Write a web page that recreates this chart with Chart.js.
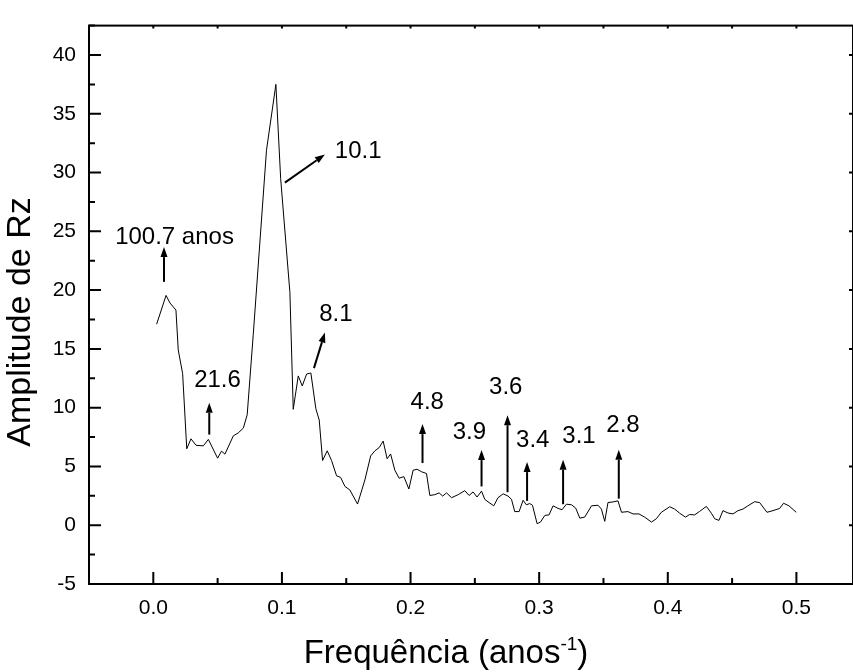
<!DOCTYPE html>
<html>
<head>
<meta charset="utf-8">
<title>Amplitude de Rz</title>
<script src="https://cdn.jsdelivr.net/npm/chart.js@4/dist/chart.umd.min.js"></script>
<style>
  html, body { margin: 0; padding: 0; background: #fff; }
  #wrap { position: relative; width: 853px; height: 672px; }
</style>
</head>
<body>
<div id="wrap"><canvas id="spectrum"></canvas></div>
<script>
// frequency (anos^-1) and amplitude of Rz
const freq = [
  0.0026, 0.0099, 0.013, 0.0176, 0.0194, 0.0228, 0.026, 0.0293, 0.0332, 0.0389,
  0.0428, 0.050, 0.053, 0.0557, 0.0622, 0.066, 0.070, 0.073, 0.0777, 0.088,
  0.0953, 0.099, 0.1062, 0.1088, 0.1127, 0.1158, 0.1192, 0.1225, 0.1264, 0.129,
  0.1316, 0.1352, 0.1386, 0.1425, 0.1456, 0.149, 0.1528, 0.1588, 0.1645, 0.169,
  0.1723, 0.1756, 0.1787, 0.1818, 0.1845, 0.1878, 0.1911, 0.1948, 0.1987, 0.202,
  0.2051, 0.2085, 0.2124, 0.215, 0.2189, 0.2222, 0.225, 0.228, 0.2319, 0.237,
  0.2422, 0.2455, 0.2486, 0.2517, 0.2552, 0.2577, 0.261, 0.2647, 0.268, 0.272,
  0.2758, 0.2785, 0.281, 0.2844, 0.2875, 0.290, 0.2927, 0.2948, 0.2984, 0.301,
  0.3044, 0.3077, 0.3108, 0.3147, 0.3178, 0.3212, 0.3251, 0.3284, 0.3316, 0.3354,
  0.3407, 0.3458, 0.3484, 0.351, 0.3535, 0.3574, 0.3613, 0.364, 0.369, 0.373,
  0.3776, 0.382, 0.3873, 0.3911, 0.395, 0.4015, 0.4054, 0.4093, 0.4137, 0.417,
  0.4209, 0.4248, 0.43, 0.4339, 0.4365, 0.4398, 0.4429, 0.4468, 0.4507, 0.4546,
  0.4584, 0.4623, 0.4675, 0.4714, 0.4771, 0.4818, 0.487, 0.490, 0.4942, 0.4999
];
const amp = [
  17.1, 19.55, 18.9, 18.3, 14.9, 12.9, 6.5, 7.35, 6.8, 6.75,
  7.3, 5.7, 6.3, 6.05, 7.6, 7.85, 8.26, 9.4, 16.2, 31.9,
  37.5, 29.5, 19.8, 9.86, 12.7, 11.85, 12.86, 12.95, 9.9, 8.95,
  5.5, 6.33, 5.5, 4.2, 4.07, 3.3, 3.0, 1.8, 3.85, 5.9,
  6.33, 6.6, 7.16, 5.65, 6.06, 4.68, 4.0, 4.13, 3.08, 4.68,
  4.76, 4.55, 4.4, 2.53, 2.6, 2.75, 2.48, 2.75, 2.34, 2.6,
  2.94, 2.53, 2.83, 2.4, 2.9, 2.2, 1.93, 1.65, 2.34, 2.67,
  2.48, 2.2, 1.16, 1.16, 2.12, 1.74, 1.84, 1.7, 0.13, 0.27,
  0.83, 0.88, 1.65, 1.43, 1.32, 1.79, 1.74, 1.46, 0.6, 0.69,
  1.65, 1.7, 1.37, 0.33, 1.93, 1.98, 2.07, 1.1, 1.16, 0.96,
  0.96, 0.69, 0.27, 0.55, 1.1, 1.57, 1.37, 1.02, 0.69, 0.91,
  0.88, 1.18, 1.6, 1.02, 0.55, 0.41, 1.24, 1.04, 0.96, 1.24,
  1.37, 1.65, 2.0, 1.93, 1.1, 1.24, 1.43, 1.87, 1.65, 1.1
];

const xTickValues = [0, 0.1, 0.2, 0.3, 0.4, 0.5];
const yTickValues = [-5, 0, 5, 10, 15, 20, 25, 30, 35, 40];

// period labels (anos) and their arrows, in data units
const peakLabels = ['100.7 anos', '21.6', '10.1', '8.1', '4.8', '3.9', '3.6', '3.4', '3.1', '2.8'];
const labelX = [0.0165, 0.0499, 0.1593, 0.142, 0.213, 0.2458, 0.274, 0.295, 0.331, 0.3652];
const labelY = [24.47, 12.34, 31.76, 17.96, 10.44, 7.88, 11.7, 7.2, 7.57, 8.5];
const arrowFromX = [0.0083, 0.0435, 0.1023, 0.1249, 0.2093, 0.2552, 0.2754, 0.2906, 0.3186, 0.3619];
const arrowFromY = [20.7, 7.71, 29.14, 13.36, 5.29, 3.3, 2.81, 2.07, 1.79, 2.26];
const arrowToX = [0.0083, 0.0435, 0.1334, 0.1334, 0.2093, 0.2552, 0.2754, 0.2906, 0.3186, 0.3619];
const arrowToY = [23.66, 10.41, 31.54, 16.39, 8.6, 6.39, 9.36, 5.37, 5.56, 6.41];

const FONT = '"Liberation Sans", Arial, Helvetica, sans-serif';

// Origin-style frame: box, inward ticks, arrows, labels and axis titles
const originFrame = {
  id: 'originFrame',
  afterDraw(chart) {
    const ctx = chart.ctx;
    const a = chart.chartArea;
    const xs = chart.scales.x;
    const ys = chart.scales.y;
    ctx.save();
    ctx.strokeStyle = '#000';
    ctx.fillStyle = '#000';
    ctx.lineWidth = 2;
    ctx.strokeRect(a.left, a.top, a.right - a.left, a.bottom - a.top);

    ctx.beginPath();
    for (let i = -1; i <= 11; i++) {
      const px = xs.getPixelForValue(i * 0.05);
      if (px < a.left - 0.5 || px > a.right + 0.5) continue;
      const len = (i % 2 === 0) ? 12 : 6;
      ctx.moveTo(px, a.bottom); ctx.lineTo(px, a.bottom - len);
      ctx.moveTo(px, a.top); ctx.lineTo(px, a.top + 3);
    }
    for (let j = -2; j <= 17; j++) {
      const py = ys.getPixelForValue(j * 2.5);
      if (py < a.top - 0.5 || py > a.bottom + 0.5) continue;
      const len = (j % 2 === 0) ? 12 : 6;
      ctx.moveTo(a.left, py); ctx.lineTo(a.left + len, py);
      if (j % 2 === 0) { ctx.moveTo(a.right, py); ctx.lineTo(a.right - 4, py); }
    }
    ctx.stroke();

    // arrows
    for (let k = 0; k < peakLabels.length; k++) {
      const x0 = xs.getPixelForValue(arrowFromX[k]);
      const y0 = ys.getPixelForValue(arrowFromY[k]);
      const x1 = xs.getPixelForValue(arrowToX[k]);
      const y1 = ys.getPixelForValue(arrowToY[k]);
      const ang = Math.atan2(y1 - y0, x1 - x0);
      const hl = 10, hw = 3.5;
      const bx = x1 - hl * Math.cos(ang), by = y1 - hl * Math.sin(ang);
      ctx.beginPath();
      ctx.moveTo(x0, y0); ctx.lineTo(bx, by);
      ctx.stroke();
      ctx.beginPath();
      ctx.moveTo(x1, y1);
      ctx.lineTo(bx + hw * Math.sin(ang), by - hw * Math.cos(ang));
      ctx.lineTo(bx - hw * Math.sin(ang), by + hw * Math.cos(ang));
      ctx.closePath();
      ctx.fill();
    }

    // period labels
    ctx.font = '24px ' + FONT;
    ctx.textAlign = 'center';
    ctx.textBaseline = 'middle';
    for (let k = 0; k < peakLabels.length; k++) {
      ctx.fillText(peakLabels[k], xs.getPixelForValue(labelX[k]), ys.getPixelForValue(labelY[k]));
    }

    // x title with superscript
    ctx.textAlign = 'left';
    ctx.textBaseline = 'alphabetic';
    const bigFont = '33px ' + FONT, supFont = '19px ' + FONT;
    const partA = 'Frequência (anos', sup = '-1', partB = ')';
    ctx.font = bigFont; const wA = ctx.measureText(partA).width; const wB = ctx.measureText(partB).width;
    ctx.font = supFont; const wS = ctx.measureText(sup).width;
    let tx = 446 - (wA + wS + wB) / 2;
    const ty = 663;
    ctx.font = bigFont; ctx.fillText(partA, tx, ty); tx += wA;
    ctx.font = supFont; ctx.fillText(sup, tx, ty - 13); tx += wS;
    ctx.font = bigFont; ctx.fillText(partB, tx, ty);

    // y title
    ctx.translate(21, 322);
    ctx.rotate(-Math.PI / 2);
    ctx.textAlign = 'center';
    ctx.textBaseline = 'middle';
    ctx.font = '34px ' + FONT;
    ctx.fillText('Amplitude de Rz', 0, 0);
    ctx.restore();
  }
};

new Chart(document.getElementById('spectrum'), {
  type: 'line',
  data: {
    datasets: [{
      data: freq.map((f, i) => ({ x: f, y: amp[i] })),
      borderColor: '#000',
      borderWidth: 1,
      pointRadius: 0,
      fill: false,
      tension: 0
    }]
  },
  options: {
    responsive: true,
    maintainAspectRatio: false,
    animation: false,
    layout: { padding: { top: 9, right: 0, left: 0, bottom: 0 } },
    plugins: { legend: { display: false }, tooltip: { enabled: false } },
    scales: {
      x: {
        type: 'linear',
        min: -0.05,
        max: 0.544,
        grid: { display: false, drawTicks: false },
        border: { display: false },
        ticks: {
          color: '#000',
          font: { size: 21, family: FONT },
          padding: 12,
          maxRotation: 0,
          autoSkip: false,
          callback: v => v.toFixed(1)
        },
        afterBuildTicks: axis => { axis.ticks = xTickValues.map(v => ({ value: v })); },
        afterFit: axis => { axis.height = 88; }
      },
      y: {
        min: -5,
        max: 42.5,
        grid: { display: false, drawTicks: false },
        border: { display: false },
        ticks: {
          color: '#000',
          font: { size: 21, family: FONT },
          padding: 13,
          autoSkip: false
        },
        afterBuildTicks: axis => { axis.ticks = yTickValues.map(v => ({ value: v })); },
        afterFit: axis => { axis.width = 89; }
      }
    }
  },
  plugins: [originFrame]
});
</script>
</body>
</html>
